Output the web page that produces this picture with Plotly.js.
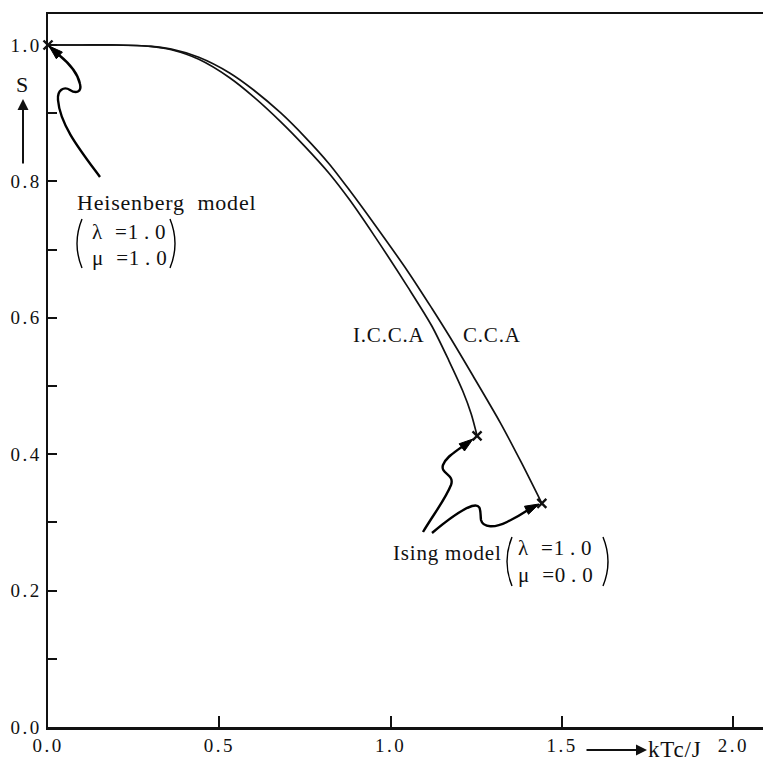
<!DOCTYPE html>
<html>
<head>
<meta charset="utf-8">
<script src="https://cdn.plot.ly/plotly-3.0.1.min.js"></script>
<style>
html,body{margin:0;padding:0;background:#fff;}
.xtick text,.ytick text{letter-spacing:2.5px;}
.annotation-text{letter-spacing:0.8px;}
</style>
</head>
<body>
<div id="chart" style="width:763px;height:765px;"></div>
<script>
// ---- data ----
const ccaX  = [0.00, 0.10, 0.20, 0.30, 0.36, 0.44, 0.53, 0.60, 0.68, 0.75, 0.82, 0.88, 0.95, 1.05, 1.12, 1.17, 1.24, 1.32, 1.38, 1.441];
const ccaS  = [1.000,1.000,1.000,0.998,0.994,0.982,0.959,0.934,0.900,0.865,0.826,0.787,0.739,0.668,0.614,0.574,0.515,0.446,0.389,0.328];
const iccaX = [0.00, 0.10, 0.20, 0.30, 0.36, 0.44, 0.53, 0.60, 0.68, 0.75, 0.82, 0.88, 0.95, 1.05, 1.12, 1.17, 1.21, 1.235, 1.252];
const iccaS = [1.000,1.000,1.000,0.998,0.993,0.979,0.952,0.924,0.887,0.851,0.812,0.773,0.722,0.645,0.588,0.537,0.493,0.459,0.427];
const heisenbergPoint = {x: 0.0, s: 1.0};
const xTickVals = [0.0, 0.5, 1.0, 1.5, 2.0];
const xTickText = ['0.0', '0.5', '1.0', '1.5', '2.0'];
const yTickVals = [0.0, 0.2, 0.4, 0.6, 0.8, 1.0];
const yTickText = ['0.0', '0.2', '0.4', '0.6', '0.8', '1.0'];
const curveLabels = ['I.C.C.A', 'C.C.A'];

// ---- geometry helpers (annotation decorations only) ----
const W = 763, H = 765, ML = 48, MR = 0, MT = 14, MB = 38;
const PW = W - ML - MR, PH = H - MT - MB;
function px(x){ return (x - ML) / PW; }
function py(y){ return (H - MB - y) / PH; }
function P(p){ return px(p[0]).toFixed(5) + ',' + py(p[1]).toFixed(5); }
function pathStr(segs){ return segs.map(s => s[0] + ' ' + s.slice(1).map(P).join(' ')).join(' '); }
function head(tip, from, len, half){
  len = len || 13; half = half || 4.5;
  let dx = tip[0]-from[0], dy = tip[1]-from[1];
  const n = Math.hypot(dx, dy); dx/=n; dy/=n;
  const b = [tip[0]-dx*len, tip[1]-dy*len];
  const b1 = [b[0]-dy*half, b[1]+dx*half], b2 = [b[0]+dy*half, b[1]-dx*half];
  return {type:'path', xref:'paper', yref:'paper', path: pathStr([['M',tip],['L',b1],['L',b2]]) + ' Z',
          fillcolor:'black', line:{color:'black', width:1}};
}
function curve(segs){
  return {type:'path', xref:'paper', yref:'paper', path: pathStr(segs), line:{color:'black', width:2.4}};
}
function paren(top, bottom, bulge){
  const mid = [bulge, (top[1]+bottom[1])/2];
  return {type:'path', xref:'paper', yref:'paper',
          path: pathStr([['M',top],['Q',mid,bottom]]), line:{color:'black', width:1.4}};
}

const serif = 'Liberation Serif, Times New Roman, serif';
const black = '#111';

const traces = [
  {x: ccaX, y: ccaS, mode:'lines', line:{color:black, width:1.7, shape:'spline', smoothing:0.8}, hoverinfo:'skip'},
  {x: iccaX, y: iccaS, mode:'lines', line:{color:black, width:1.7, shape:'spline', smoothing:0.8}, hoverinfo:'skip'},
  {x: [heisenbergPoint.x, iccaX[iccaX.length-1], ccaX[ccaX.length-1]],
   y: [heisenbergPoint.s, iccaS[iccaS.length-1], ccaS[ccaS.length-1]],
   mode:'markers', cliponaxis:false,
   marker:{symbol:'x-thin', size:9, line:{width:2.4, color:black}}, hoverinfo:'skip'}
];

const shapes = [
  // Heisenberg curly arrow
  curve([['M',[100,177]],['C',[80,150],[60,125],[58,100]],['C',[57,90],[64,86],[70,90]],['C',[76,94],[82,92],[80,84]],['C',[78,74],[70,64],[59,55]]]),
  head([49,46],[60,56],14,4.5),
  // Ising arrow to I.C.C.A end
  curve([['M',[423,532]],['C',[433,515],[445,500],[451,485]],['C',[455,474],[440,474],[443,465]],['C',[446,457],[455,452],[463,446]]]),
  head([473,439],[461,448],14,4.5),
  // Ising arrow to C.C.A end
  curve([['M',[432,533]],['C',[445,522],[460,510],[472,506]],['C',[482,503],[480,512],[481,520]],['C',[483,528],[495,528],[507,522]],['C',[515,518],[522,514],[528,510]]]),
  head([539,504],[525,511],14,4.5),
  // parentheses
  paren([82,219],[82,268],72),
  paren([170,219],[170,268],180),
  paren([512,537],[512,586],502),
  paren([603,537],[603,586],613)
];

const ann = (txt, x, y, size, xanchor) => ({
  text: txt, xref:'paper', yref:'paper', x: px(x), y: py(y),
  xanchor: xanchor || 'center', yanchor:'middle', showarrow:false,
  font:{family: serif, size: size, color: black}
});

const annotations = [
  ann('Heisenberg\u00a0\u00a0model', 75, 202, 22, 'left'),
  ann('λ\u00a0\u00a0=1\u2009.\u20090', 90, 232, 21, 'left'),
  ann('μ\u00a0\u00a0=1\u2009.\u20090', 90, 258, 21, 'left'),
  ann(curveLabels[0], 389, 335, 21),
  ann(curveLabels[1], 492, 335, 21),
  ann('Ising\u00a0model', 391, 553, 21, 'left'),
  ann('λ\u00a0\u00a0=1\u2009.\u20090', 516, 548, 21, 'left'),
  ann('μ\u00a0\u00a0=0\u2009.\u20090', 516, 575, 21, 'left'),
  ann('S', 23, 85, 22),
  ann('kTc/J', 646, 749, 23, 'left'),
  // axis arrows
  {text:'', xref:'paper', yref:'paper', x: px(23), y: py(99), ax:0, ay:66, axref:'pixel', ayref:'pixel',
   showarrow:true, arrowhead:2, arrowsize:1.1, arrowwidth:2, arrowcolor:black},
  {text:'', xref:'paper', yref:'paper', x: px(647), y: py(750), ax:-62, ay:0, axref:'pixel', ayref:'pixel',
   showarrow:true, arrowhead:2, arrowsize:1.1, arrowwidth:2, arrowcolor:black}
];

const layout = {
  width: W, height: H,
  margin: {l: ML, r: MR, t: MT, b: MB, pad: 0},
  paper_bgcolor:'white', plot_bgcolor:'white',
  showlegend:false,
  xaxis: {
    range:[0, (W-ML-MR)/342.7], showgrid:false, zeroline:false,
    showline:true, linecolor:black, linewidth:2.5, mirror:true,
    ticks:'inside', ticklen:11, tickwidth:2, tickcolor:black,
    tickmode:'array', tickvals:xTickVals, ticktext:xTickText,
    tickfont:{family:serif, size:19, color:black}
  },
  yaxis: {
    range:[0, (H-MT-MB)/682], showgrid:false, zeroline:false,
    showline:true, linecolor:black, linewidth:2.5, mirror:false,
    ticks:'inside', ticklen:9, tickwidth:2, tickcolor:black,
    tickmode:'array', tickvals:yTickVals, ticktext:yTickText,
    minor:{dtick:0.1, tick0:0, ticks:'inside', ticklen:9, tickwidth:2, tickcolor:black},
    tickfont:{family:serif, size:19, color:black}
  },
  shapes: shapes,
  annotations: annotations
};

Plotly.newPlot('chart', traces, layout, {staticPlot:true, displayModeBar:false});
</script>
</body>
</html>
